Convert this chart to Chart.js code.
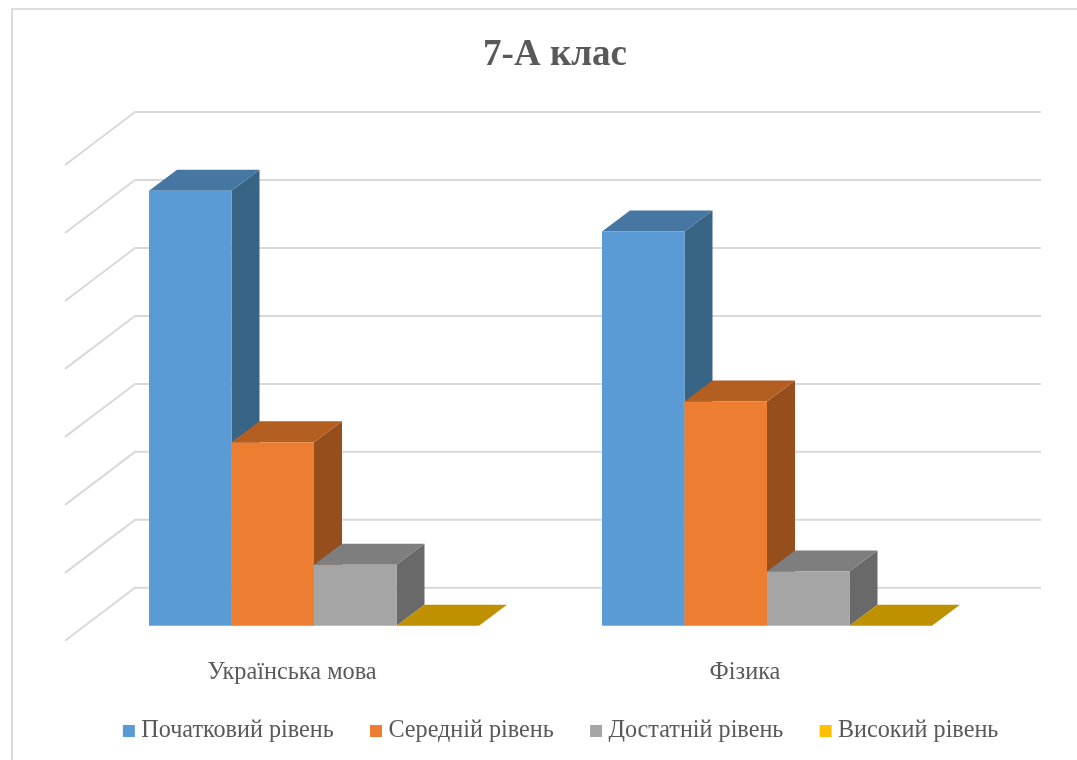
<!DOCTYPE html>
<html>
<head>
<meta charset="utf-8">
<title>7-А клас</title>
<script src="https://cdn.jsdelivr.net/npm/chart.js@4"></script>
<style>
	html, body { margin: 0; padding: 0; background: #fff; overflow: hidden; }
	#wrap { position: relative; width: 1077px; height: 760px; }
	#frame { position: absolute; left: 11px; top: 8px; right: 0; bottom: 0; border-left: 2px solid #dcdcdc; border-top: 2px solid #dcdcdc; }
	canvas { position: absolute; left: 0; top: 0; }
</style>
</head>
<body>
<div id="wrap">
	<div id="frame"></div>
	<canvas id="grafica" width="1077" height="760"></canvas>
</div>
<script>
const categories = ['Українська мова', 'Фізика'];
const seriesNames = ['Початковий рівень', 'Середній рівень', 'Достатній рівень', 'Високий рівень'];

const pochatkovyi = [64, 58];
const serednii = [27, 33];
const dostatnii = [9, 8];
const vysokyi = [0, 0];

const yMax = 70;
const yStep = 10;

const frontColors = ['#5B9BD5', '#ED7D31', '#A5A5A5', '#FFC000'];
const topColors = ['#4676A2', '#B45F22', '#7E7E7E', '#BF9000'];
const sideColors = ['#386486', '#974E1D', '#696969', '#BF9000'];

const textColor = '#595959';
const fontName = '"Liberation Serif", "Times New Roman", serif';

// depth of a bar, and where the back wall / front edge sit relative to the bars
const barDepth = { x: 28, y: -21 };
const wallBack = { x: 47.5, y: -38 };
const wallFront = { x: -22.5, y: 15 };
const wallRight = 1041;

const bars3d = {
	id: 'bars3d',
	// walls first, then bars left to right: side and top of a bar go under its
	// own front, but over the bar on its left. Chart.js would draw them the other way round
	beforeDatasetsDraw(chart) {
		const { ctx, scales } = chart;
		const left = scales.x.left;
		ctx.save();
		ctx.strokeStyle = '#d9d9d9';
		ctx.lineWidth = 2;
		scales.y.ticks.forEach(t => {
			const py = scales.y.getPixelForValue(t.value);
			ctx.beginPath();
			ctx.moveTo(left + wallFront.x, py + wallFront.y);
			ctx.lineTo(left + wallBack.x, py + wallBack.y);
			ctx.lineTo(wallRight, py + wallBack.y);
			ctx.stroke();
		});

		const dx = barDepth.x, dy = barDepth.y;
		seriesNames.forEach((name, i) => {
			const meta = chart.getDatasetMeta(i);
			meta.data.forEach(bar => {
				const { x, y, base, width } = bar.getProps(['x', 'y', 'base', 'width'], true);
				const l = x - width / 2, r = x + width / 2;
				ctx.fillStyle = sideColors[i];
				ctx.beginPath();
				ctx.moveTo(r, y);
				ctx.lineTo(r + dx, y + dy);
				ctx.lineTo(r + dx, base + dy);
				ctx.lineTo(r, base);
				ctx.closePath();
				ctx.fill();
				ctx.fillStyle = topColors[i];
				ctx.beginPath();
				ctx.moveTo(l, y);
				ctx.lineTo(l + dx, y + dy);
				ctx.lineTo(r + dx, y + dy);
				ctx.lineTo(r, y);
				ctx.closePath();
				ctx.fill();
			});
			meta.controller.draw();
		});
		ctx.restore();
		return false;
	}
};

const seriesValues = [pochatkovyi, serednii, dostatnii, vysokyi];

const data = {
	labels: categories,
	datasets: seriesNames.map((name, i) => ({
		label: name,
		data: seriesValues[i],
		backgroundColor: frontColors[i],
		categoryPercentage: 0.7285,
		barPercentage: 1
	}))
};

const config = {
	type: 'bar',
	data: data,
	plugins: [bars3d],
	options: {
		responsive: false,
		animation: false,
		layout: { padding: { left: 69.65, right: 36.65, top: 0, bottom: 7 } },
		plugins: {
			tooltip: { enabled: false },
			title: {
				display: true,
				text: '7-А клас',
				color: textColor,
				font: { family: fontName, size: 37, weight: 'bold' },
				padding: { top: 33, bottom: 72.6 }
			},
			legend: {
				position: 'bottom',
				align: 'end',
				labels: {
					color: textColor,
					font: { family: fontName, size: 24.2 },
					usePointStyle: true,
					pointStyle: 'rect',
					boxWidth: 0.5,
					boxHeight: 12,
					padding: 42
				}
			}
		},
		scales: {
			x: {
				grid: { display: false },
				border: { display: false },
				ticks: {
					color: textColor,
					font: { family: fontName, size: 24.3 },
					labelOffset: -22,
					// mirror: the axis box is shorter than the label, and mirrored labels are not clipped to it
					mirror: true,
					padding: -61,
					maxRotation: 0
				},
				afterFit: s => { s.height = 51; }
			},
			y: {
				position: 'right',
				min: 0,
				max: yMax,
				grid: { display: false },
				border: { display: false },
				ticks: { display: false, stepSize: yStep },
				afterFit: s => { s.width = 46.85; }
			},
			// empty axis, only keeps the plot off the legend's left edge
			spacer: {
				position: 'left',
				grid: { display: false },
				border: { display: false },
				ticks: { display: false },
				afterFit: s => { s.width = 17.85; }
			}
		}
	}
};
new Chart(document.querySelector('#grafica'), config);
</script>
</body>
</html>
